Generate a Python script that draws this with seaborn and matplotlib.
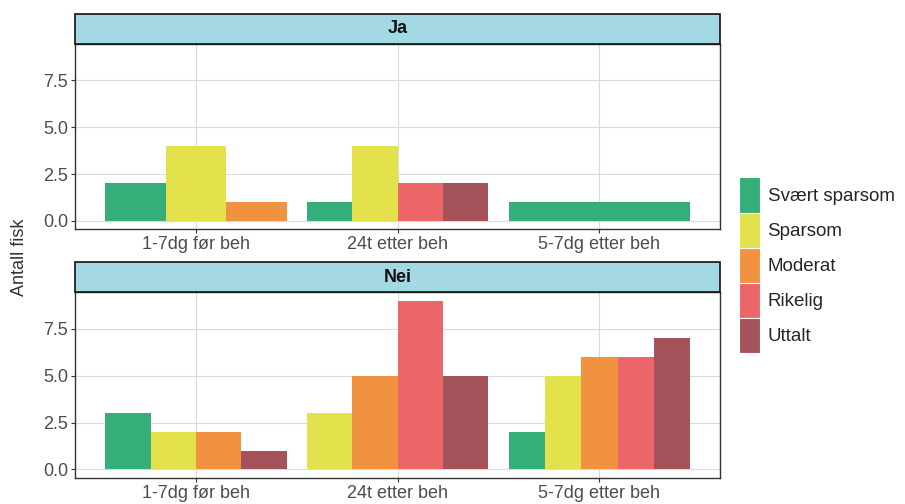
import matplotlib
matplotlib.use('Agg')
import matplotlib.pyplot as plt
from matplotlib.patches import Patch, Rectangle
import pandas as pd
import seaborn as sns

# data
categories = ["1-7dg før beh", "24t etter beh", "5-7dg etter beh"]
levels = ["Svært sparsom", "Sparsom", "Moderat", "Rikelig", "Uttalt"]
panels = ["Ja", "Nei"]
ja_counts = [[2, 4, 1, 0, 0],
             [1, 4, 0, 2, 2],
             [1, 0, 0, 0, 0]]
nei_counts = [[3, 2, 2, 0, 1],
              [0, 3, 5, 9, 5],
              [2, 5, 6, 6, 7]]

colors = ["#35AE79", "#E4E24C", "#F0923F", "#EC6568", "#A4535A"]
palette = dict(zip(levels, colors))

rows = []
for panel, counts in zip(panels, [ja_counts, nei_counts]):
    for ci, cat in enumerate(categories):
        for li, lev in enumerate(levels):
            if counts[ci][li] > 0:
                rows.append({"panel": panel, "tid": cat, "niva": lev, "antall": counts[ci][li]})
df = pd.DataFrame(rows)

sns.set_style("white")
plt.rcParams['font.family'] = ['Liberation Sans', 'DejaVu Sans']


def dodged_bars(data, **kws):
    # ggplot-style dodge: bars fill 0.9 of the slot, split among present levels
    ax = plt.gca()
    for ci, cat in enumerate(categories):
        sub = data[data["tid"] == cat]
        sub = sub.set_index("niva").reindex([l for l in levels if l in set(sub["niva"])])
        n = len(sub)
        if n == 0:
            continue
        w = 0.9 / n
        for k, (lev, r) in enumerate(sub.iterrows()):
            ax.bar(ci - 0.45 + w * (k + 0.5), r["antall"], width=w,
                   color=palette[lev], linewidth=0, zorder=3)


g = sns.FacetGrid(df, row="panel", row_order=panels, sharex=True, sharey=True,
                  height=2.0, aspect=3.5)
g.map_dataframe(dodged_bars)
g.figure.set_size_inches(9.05, 5.04)
g.figure.subplots_adjust(left=0.083, right=0.796, top=0.913, bottom=0.052, hspace=0.34)

for ax, panel in zip(g.axes.flat, panels):
    ax.set_title("")
    ax.set_xlim(-0.6, 2.6)
    ax.set_ylim(-0.45, 9.45)
    ax.set_yticks([0, 2.5, 5, 7.5])
    ax.set_yticklabels(["0.0", "2.5", "5.0", "7.5"])
    ax.set_xticks(range(len(categories)))
    ax.set_xticklabels(categories)
    ax.tick_params(axis="x", labelbottom=True)
    ax.tick_params(axis="both", length=3, width=0.8, color="#333333",
                   labelsize=13, labelcolor="#4D4D4D", direction="out",
                   left=True, bottom=True, pad=2)
    ax.grid(True, color="#DADADA", linewidth=0.8, zorder=0)
    ax.set_axisbelow(True)
    ax.set_xlabel("")
    ax.set_ylabel("")
    for side in ["left", "right", "top", "bottom"]:
        ax.spines[side].set_visible(True)
        ax.spines[side].set_color("#333333")
        ax.spines[side].set_linewidth(1.0)
    # strip on top of each panel
    strip_h = 30 / (ax.bbox.height)
    ax.add_patch(Rectangle((0, 1), 1, strip_h, transform=ax.transAxes, clip_on=False,
                           facecolor="#A5D8E5", edgecolor="#111111", linewidth=1.2, zorder=5))
    ax.text(0.5, 1 + strip_h / 2, panel, transform=ax.transAxes, ha="center", va="center",
            fontsize=13, fontweight="bold", color="#111111", zorder=6)

g.figure.text(0.021, 0.49, "Antall fisk", rotation=90, ha="center", va="center",
              fontsize=13, color="#333333")

handles = [Patch(facecolor=palette[l], edgecolor="white", linewidth=0.8) for l in levels]
g.figure.legend(handles, levels, loc="center left", bbox_to_anchor=(0.817, 0.474),
                frameon=False, fontsize=13.5, handlelength=1.1, handleheight=2.5,
                labelspacing=0.0, handletextpad=0.4, borderpad=0, borderaxespad=0)

g.figure.savefig("out.png", dpi=100)
